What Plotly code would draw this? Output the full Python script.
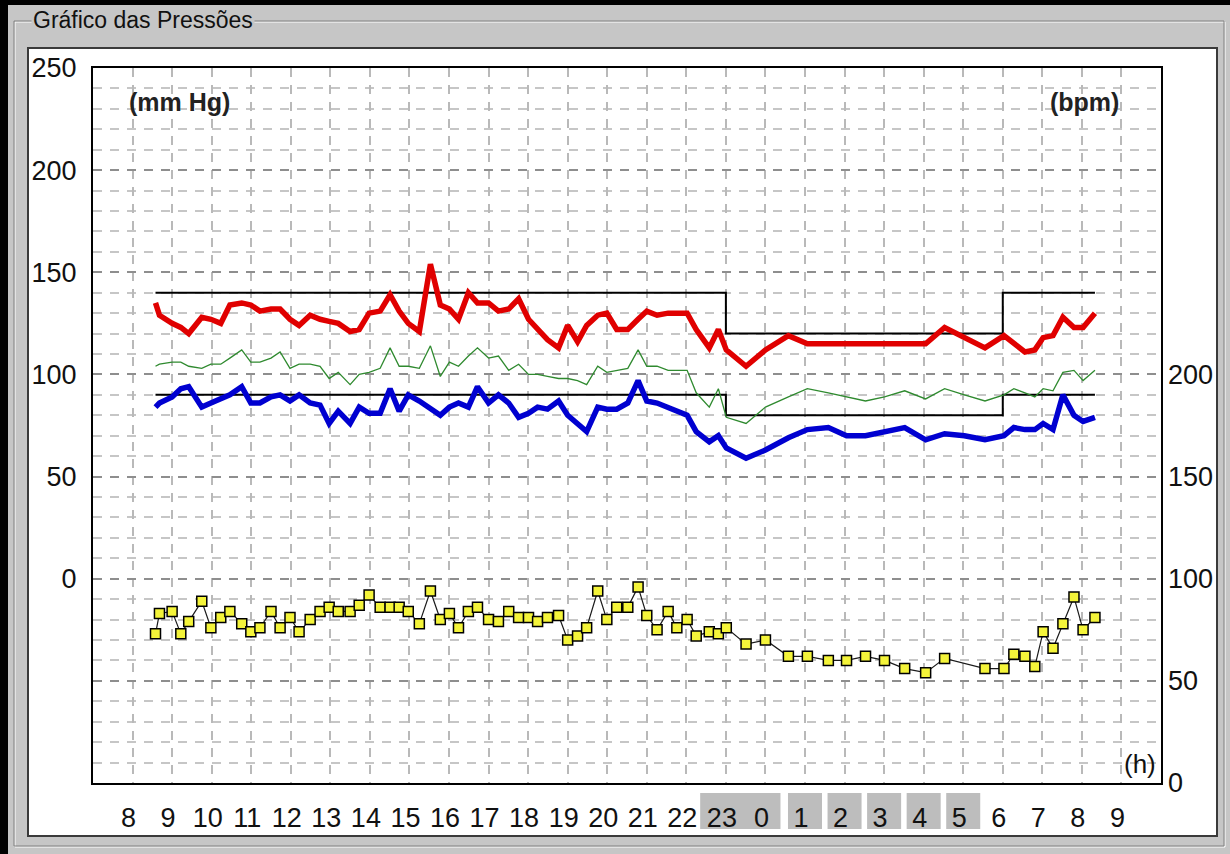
import plotly.graph_objects as go

# ---------------- data ----------------
times = [8.58, 8.68, 9.0, 9.22, 9.42, 9.75, 9.98, 10.23, 10.46, 10.76,
         10.99, 11.22, 11.5, 11.73, 11.98, 12.21, 12.49, 12.74, 12.97, 13.2,
         13.5, 13.73, 13.98, 14.26, 14.51, 14.74, 14.97, 15.25, 15.53, 15.78,
         16.01, 16.24, 16.49, 16.72, 17.0, 17.25, 17.51, 17.76, 18.01, 18.24,
         18.49, 18.77, 19.0, 19.25, 19.48, 19.76, 19.99, 20.24, 20.52, 20.78,
         21.0, 21.26, 21.54, 21.76, 22.02, 22.25, 22.58, 22.81, 23.01, 23.51,
         24.0, 24.58, 25.06, 25.59, 26.05, 26.53, 27.01, 27.52, 28.05, 28.53,
         29.03, 29.55, 30.03, 30.28, 30.56, 30.81, 31.02, 31.27, 31.52, 31.8,
         32.03, 32.33]

systolic = [135, 129, 125, 123, 120, 128, 127, 125, 134, 135,
            134, 131, 132, 132, 127, 124, 129, 127, 126, 125,
            121, 122, 130, 131, 139, 131, 125, 121, 154, 134,
            132, 127, 140, 135, 135, 131, 132, 137, 127, 122,
            117, 113, 124, 116, 124, 129, 130, 122, 122, 127,
            131, 129, 130, 130, 130, 122, 113, 122, 112, 104,
            112, 119, 115, 115, 115, 115, 115, 115, 115, 123,
            118, 113, 119, 115, 111, 112, 118, 119, 128, 123,
            123, 130]

diastolic = [84, 86, 89, 93, 94, 84, 86, 88, 90, 94,
             86, 86, 89, 90, 87, 90, 86, 85, 76, 82,
             76, 84, 81, 81, 93, 82, 90, 87, 83, 80,
             84, 86, 84, 94, 86, 90, 86, 79, 81, 84,
             83, 87, 80, 76, 72, 84, 83, 83, 86, 97,
             87, 86, 84, 82, 80, 72, 67, 70, 64, 59,
             63, 69, 73, 74, 70, 70, 72, 74, 68, 71,
             70, 68, 70, 74, 73, 73, 76, 73, 90, 80,
             77, 79]

mean_pressure = [104, 105, 106, 106, 104, 103, 105, 105, 108, 112,
                 106, 106, 108, 111, 103, 105, 105, 104, 98, 101,
                 95, 100, 101, 103, 113, 104, 104, 103, 114, 99,
                 106, 104, 109, 113, 108, 109, 102, 105, 100, 100,
                 99, 98, 98, 97, 95, 104, 101, 102, 103, 112,
                 104, 104, 102, 102, 102, 91, 84, 93, 79, 76,
                 84, 89, 93, 91, 89, 87, 89, 92, 88, 93,
                 90, 87, 90, 93, 91, 89, 93, 92, 101, 102,
                 97, 102]

heart_rate = [73, 83, 84, 73, 79, 89, 76, 81, 84, 78,
              74, 76, 84, 76, 81, 74, 80, 84, 86, 84,
              84, 87, 92, 86, 86, 86, 84, 78, 94, 80,
              83, 76, 84, 86, 80, 79, 84, 81, 81, 79,
              81, 82, 70, 72, 76, 94, 80, 86, 86, 96,
              82, 75, 84, 76, 80, 72, 74, 73, 76, 68,
              70, 62, 62, 60, 60, 62, 60, 56, 54, 61,
              None, 56, 56, 63, 62, 57, 74, 66, 78, 91,
              75, 81]

limit_times = [8.58, 23.0, 30.0, 32.33]
systolic_limit = [140, 120, 140, 140]
diastolic_limit = [90, 80, 90, 90]

hour_ticks = list(range(8, 34))
hour_labels = [str(h % 24) for h in hour_ticks]
# night label boxes (hour spans)
night_boxes = [(22.35, 24.38), (24.57, 25.43), (25.57, 26.43),
               (26.57, 27.43), (27.57, 28.43), (28.57, 29.43)]

mmhg_ticks = [-50, 0, 50, 100, 150, 200, 250]
mmhg_labels = ["", "0", "50", "100", "150", "200", "250"]
bpm_ticks = [0, 50, 100, 150, 200]

# ---------------- layout geometry ----------------
W, H = 1230, 854
L, R, T, B = 93, 69, 68, 71
PW, PH = W - L - R, H - T - B
GREY = "#c6c6c6"
FONT = "Liberation Sans, Arial, sans-serif"


def px(x):
    return (x - L) / PW


def py(y):
    return (H - B - y) / PH


fig = go.Figure()

fig.add_trace(go.Scatter(x=limit_times, y=systolic_limit, mode="lines",
                         line=dict(color="black", width=2, shape="hv"),
                         hoverinfo="skip", showlegend=False))
fig.add_trace(go.Scatter(x=limit_times, y=diastolic_limit, mode="lines",
                         line=dict(color="black", width=2, shape="hv"),
                         hoverinfo="skip", showlegend=False))
fig.add_trace(go.Scatter(x=times, y=mean_pressure, mode="lines",
                         line=dict(color="#2f8a2f", width=1.3),
                         showlegend=False))
fig.add_trace(go.Scatter(x=times, y=systolic, mode="lines",
                         line=dict(color="#e00000", width=5.5),
                         showlegend=False))
fig.add_trace(go.Scatter(x=times, y=diastolic, mode="lines",
                         line=dict(color="#0000d0", width=5.5),
                         showlegend=False))
fig.add_trace(go.Scatter(x=times, y=heart_rate, yaxis="y2",
                         mode="lines+markers", connectgaps=True,
                         line=dict(color="#1a1a1a", width=1.2),
                         marker=dict(symbol="square", size=10, color="#f4f43a",
                                     line=dict(color="black", width=1.5)),
                         showlegend=False))

shapes = []
# black outer strips
shapes.append(dict(type="rect", xref="paper", yref="paper", layer="below",
                   x0=px(0), x1=px(8), y0=py(H), y1=py(0),
                   fillcolor="black", line=dict(width=0)))
shapes.append(dict(type="rect", xref="paper", yref="paper", layer="below",
                   x0=px(0), x1=px(W), y0=py(5), y1=py(0),
                   fillcolor="black", line=dict(width=0)))
# group box etched frame
shapes.append(dict(type="rect", xref="paper", yref="paper", layer="below",
                   x0=px(15), x1=px(1225), y0=py(847), y1=py(22),
                   line=dict(color="white", width=1)))
shapes.append(dict(type="rect", xref="paper", yref="paper", layer="below",
                   x0=px(14), x1=px(1224), y0=py(846), y1=py(21),
                   line=dict(color="#808080", width=1)))
# white inner panel
shapes.append(dict(type="rect", xref="paper", yref="paper", layer="below",
                   x0=px(28), x1=px(1217), y0=py(836), y1=py(48),
                   fillcolor="white", line=dict(color="#3a3a3a", width=2)))
# night hour label boxes
for a, b in night_boxes:
    shapes.append(dict(type="rect", xref="paper", yref="paper", layer="below",
                       x0=(a - 7) / 27, x1=(b - 7) / 27, y0=py(829), y1=py(793),
                       fillcolor="#bdbdbd", line=dict(width=0)))

annotations = [
    dict(text="Gráfico das Pressões", xref="paper", yref="paper",
         x=px(31), y=py(20), xanchor="left", yanchor="middle", showarrow=False,
         bgcolor=GREY, borderpad=1, font=dict(family=FONT, size=23, color="#111")),
    dict(text="<b>(mm Hg)</b>", xref="paper", yref="paper",
         x=px(127), y=py(102), xanchor="left", yanchor="middle", showarrow=False,
         font=dict(family=FONT, size=25, color="#222")),
    dict(text="<b>(bpm)</b>", xref="paper", yref="paper",
         x=px(1121), y=py(102), xanchor="right", yanchor="middle", showarrow=False,
         font=dict(family=FONT, size=25, color="#222")),
    dict(text="(h)", xref="paper", yref="paper",
         x=px(1158), y=py(764), xanchor="right", yanchor="middle", showarrow=False,
         font=dict(family=FONT, size=26, color="#111")),
]

grid_dash = "9px,8px"
fig.update_layout(
    width=W, height=H, autosize=False,
    margin=dict(l=L, r=R, t=T, b=B, pad=0),
    paper_bgcolor=GREY, plot_bgcolor="white",
    font=dict(family=FONT, color="#111"),
    shapes=shapes, annotations=annotations,
    showlegend=False,
    xaxis=dict(range=[7, 34], tickmode="array", tickvals=hour_ticks,
               ticktext=hour_labels, ticks="", showgrid=True,
               gridcolor="#b9b9b9", gridwidth=1.5, griddash=grid_dash,
               showline=True, mirror=True, linecolor="black", linewidth=2,
               zeroline=False, tickfont=dict(size=27, color="#111"),
               ticklabelstandoff=10, ticklabelshift=-4, fixedrange=True),
    yaxis=dict(range=[-100, 250], tickmode="array", tickvals=mmhg_ticks,
               ticktext=mmhg_labels, ticks="", showgrid=True,
               gridcolor="#8e8e8e", gridwidth=1.5, griddash=grid_dash,
               minor=dict(tickmode="linear", tick0=-100, dtick=10, showgrid=True,
                          gridcolor="#c6c6c6", gridwidth=1.5, griddash=grid_dash,
                          ticks=""),
               showline=True, mirror=True, linecolor="black", linewidth=2,
               zeroline=False, tickfont=dict(size=27, color="#111"),
               ticklabelstandoff=9, fixedrange=True),
    yaxis2=dict(range=[0, 350], overlaying="y", side="right", tickmode="array",
                tickvals=bpm_ticks, ticks="", showgrid=False, zeroline=False,
                showline=False, tickfont=dict(size=27, color="#111"),
                ticklabelstandoff=6, fixedrange=True),
)

fig.write_html("out.html", config={"displayModeBar": False},
               post_script="document.body.style.margin='0';document.body.style.overflow='hidden';")
